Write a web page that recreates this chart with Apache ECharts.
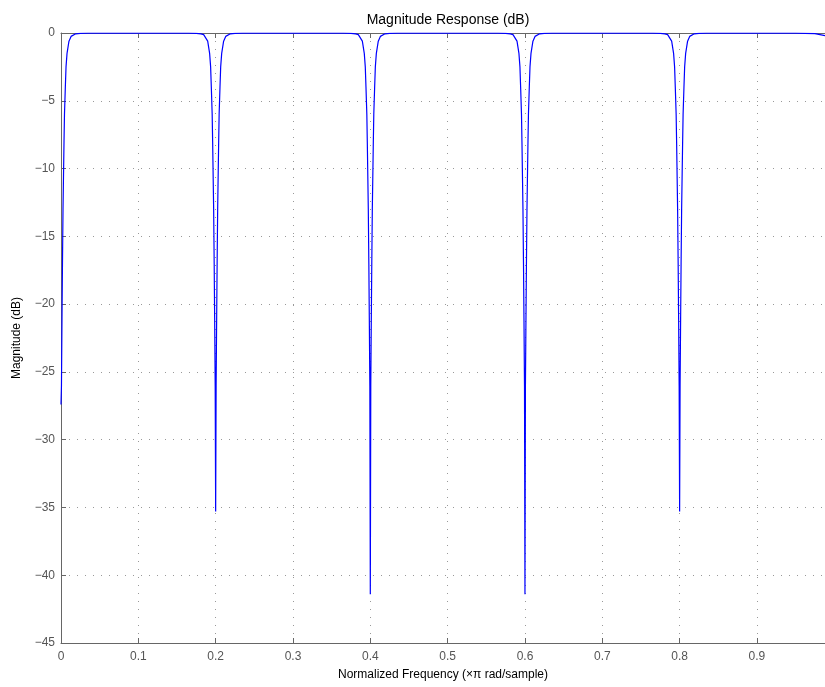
<!DOCTYPE html>
<html>
<head>
<meta charset="utf-8">
<script src="https://cdn.jsdelivr.net/npm/echarts@6/dist/echarts.min.js"></script>
<style>
html,body{margin:0;padding:0;background:#fff;}
#chart{width:825px;height:687px;}
</style>
</head>
<body>
<div id="chart"></div>
<script>
// Notch centres (normalized frequency) and their depths (dB)
var notchCenters = [0, 0.2, 0.4, 0.6, 0.8];
var notchDepths = [-27.4, -35.3, -41.4, -41.4, -35.3];
// Shape of one notch: distance from centre and magnitude (dB)
var profileOffsets = [0.0006, 0.0013, 0.0019, 0.0026, 0.0039, 0.0045, 0.0056, 0.0065, 0.0078, 0.0103, 0.013, 0.0155, 0.019, 0.025, 0.035];
var profileDb = [-26, -21, -17, -13, -8, -6, -4, -2.5, -1.5, -0.6, -0.25, -0.12, -0.06, -0.03, -0.01];
// Tail at the right edge
var tailFreq = [0.95, 0.975, 0.988];
var tailDb = [-0.01, -0.05, -0.2];
// Axis ticks
var yTicks = [0, -5, -10, -15, -20, -25, -30, -35, -40, -45];
var xTicks = [0, 0.1, 0.2, 0.3, 0.4, 0.5, 0.6, 0.7, 0.8, 0.9];

var data = [];
notchCenters.forEach(function (c, k) {
  for (var i = profileOffsets.length - 1; i >= 0; i--) {
    var f = c - profileOffsets[i];
    if (f >= 0) data.push([f, profileDb[i]]);
  }
  data.push([c, notchDepths[k]]);
  for (var j = 0; j < profileOffsets.length; j++) {
    data.push([c + profileOffsets[j], profileDb[j]]);
  }
});
tailFreq.forEach(function (f, i) { data.push([f, tailDb[i]]); });

var axisGray = '#666666';
var font = 'Liberation Sans, Arial, Helvetica, sans-serif';

var chart = echarts.init(document.getElementById('chart'));
chart.setOption({
  animation: false,
  backgroundColor: '#ffffff',
  title: {
    text: 'Magnitude Response (dB)',
    left: 443, top: 8, textAlign: 'center',
    textStyle: { fontFamily: font, fontSize: 14, fontWeight: 'normal', color: '#000' }
  },
  grid: { left: 61, top: 33, right: 0, bottom: 44, containLabel: false },
  xAxis: [{
    type: 'value', min: 0, max: 0.988, interval: 0.1,
    name: 'Normalized Frequency (\u00d7\u03c0 rad/sample)',
    nameLocation: 'middle', nameGap: 26,
    nameTextStyle: { fontFamily: font, fontSize: 12, color: '#000' },
    axisLine: { onZero: false, lineStyle: { color: axisGray, width: 1 } },
    axisTick: { inside: true, length: 5, lineStyle: { color: axisGray } },
    axisLabel: {
      fontFamily: font, fontSize: 12, color: '#555', margin: 8, showMaxLabel: false,
      formatter: function (v) {
        for (var i = 0; i < xTicks.length; i++) if (Math.abs(xTicks[i] - v) < 1e-6) return String(xTicks[i]);
        return '';
      }
    },
    splitLine: { show: true, lineStyle: { color: '#999', width: 1, type: [1, 7] } }
  }, {
    type: 'value', position: 'top', min: 0, max: 0.988, interval: 0.1,
    axisLine: { onZero: false, lineStyle: { color: axisGray, width: 1 } },
    axisTick: { inside: true, length: 5, lineStyle: { color: axisGray } },
    axisLabel: { show: false },
    splitLine: { show: false }
  }],
  yAxis: {
    type: 'value', min: -45, max: 0, interval: 5,
    name: 'Magnitude (dB)', nameLocation: 'middle', nameGap: 38, nameRotate: 90,
    nameTextStyle: { fontFamily: font, fontSize: 12, color: '#000' },
    axisLine: { onZero: false, lineStyle: { color: axisGray, width: 1 } },
    axisTick: { inside: true, length: 5, lineStyle: { color: axisGray } },
    axisLabel: {
      fontFamily: font, fontSize: 12, color: '#555', margin: 6,
      formatter: function (v) {
        for (var i = 0; i < yTicks.length; i++) if (Math.abs(yTicks[i] - v) < 1e-6) return String(yTicks[i]).replace('-', '\u2212');
        return '';
      }
    },
    splitLine: { show: true, lineStyle: { color: '#999', width: 1, type: [1, 7] } }
  },
  series: [{
    type: 'line', data: data, showSymbol: false, symbol: 'none',
    lineStyle: { color: '#0000ff', width: 1.2 }, z: 10, clip: true
  }]
});
</script>
</body>
</html>
